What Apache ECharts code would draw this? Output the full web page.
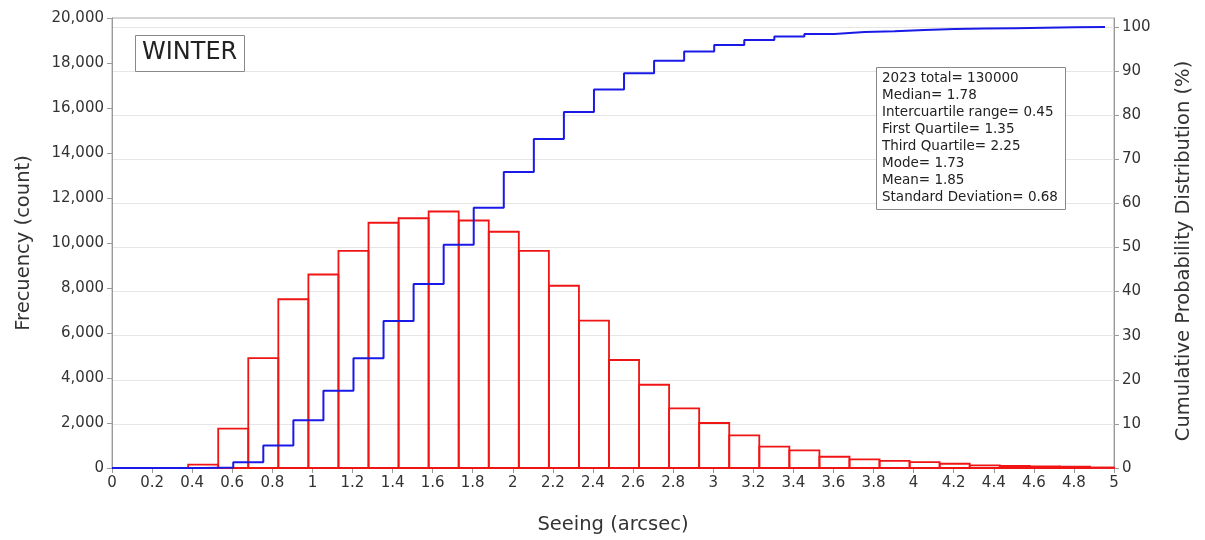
<!DOCTYPE html>
<html>
<head>
<meta charset="utf-8">
<script src="https://cdn.jsdelivr.net/npm/echarts@6/dist/echarts.min.js"></script>
<style>html,body{margin:0;padding:0;background:#fff}#chart{width:1205px;height:540px}</style>
</head>
<body>
<div id="chart"></div>
<script>
// Histogram bins (arcsec)
const binStarts = [0.38,0.53,0.68,0.83,0.98,1.13,1.28,1.43,1.58,1.73,1.88,2.03,2.18,2.33,2.48,2.63,2.78,2.93,3.08,3.23,3.38,3.53,3.68,3.83,3.98,4.13,4.28,4.43,4.58,4.73,4.88];
const binEnds   = [0.53,0.68,0.83,0.98,1.13,1.28,1.43,1.58,1.73,1.88,2.03,2.18,2.33,2.48,2.63,2.78,2.93,3.08,3.23,3.38,3.53,3.68,3.83,3.98,4.13,4.28,4.43,4.58,4.73,4.88,5.03];
const counts    = [150,1750,4880,7500,8600,9650,10900,11100,11400,11000,10500,9650,8100,6550,4800,3700,2650,2000,1450,950,780,500,380,320,260,190,120,90,70,55,25];
// Cumulative distribution (%)
const cdfX   = [0,0.455,0.605,0.755,0.905,1.055,1.205,1.355,1.505,1.655,1.805,1.955,2.105,2.255,2.405,2.555,2.705,2.855,3.005,3.155,3.305,3.455,3.605,3.755,3.905,4.055,4.205,4.355,4.505,4.655,4.805,4.955];
const cdfPct = [0,0.1,1.3,5.1,10.8,17.5,24.9,33.3,41.7,50.6,59.0,67.1,74.6,80.7,85.8,89.5,92.3,94.4,95.9,97.0,97.8,98.4,98.8,99.0,99.3,99.5,99.6,99.7,99.8,99.9,99.95,100];
// Tick labels
const rightTicks = [0,10,20,30,40,50,60,70,80,90,100];
const seasonLabel = 'WINTER';
const statsLines = [
  '2023 total= 130000',
  'Median= 1.78',
  'Intercuartile range= 0.45',
  'First Quartile= 1.35',
  'Third Quartile= 2.25',
  'Mode= 1.73',
  'Mean= 1.85',
  'Standard Deviation= 0.68'
];

const FONT = 'DejaVu Sans';
const histData = binStarts.map((s, i) => [s, binEnds[i], counts[i]]);
const cdfData = cdfX.map((x, i) => [x, cdfPct[i]]);

const chart = echarts.init(document.getElementById('chart'), null, {renderer: 'canvas'});
chart.setOption({
  animation: false,
  backgroundColor: '#fff',
  textStyle: {fontFamily: FONT},
  grid: {left: 112, right: 91, top: 18, bottom: 71, show: true, borderColor: '#aaa', borderWidth: 1, backgroundColor: 'transparent'},
  title: [
    {text: seasonLabel, left: 135, top: 35, padding: [6, 7, 7, 7], borderColor: '#888', borderWidth: 1,
     textStyle: {fontFamily: FONT, fontSize: 24, fontWeight: 'normal', color: '#222'}},
    {text: statsLines.join('\n'), left: 876, top: 67, padding: [3, 8, 4, 6], borderColor: '#888', borderWidth: 1, backgroundColor: '#fff',
     textStyle: {fontFamily: FONT, fontSize: 13.5, fontWeight: 'normal', color: '#222', lineHeight: 17}}
  ],
  xAxis: {
    type: 'value', min: 0, max: 5, interval: 0.2,
    name: 'Seeing (arcsec)', nameLocation: 'middle', nameGap: 47,
    nameTextStyle: {fontFamily: FONT, fontSize: 19.5, color: '#333'},
    axisLine: {lineStyle: {color: '#999'}},
    axisTick: {show: true, length: 5, lineStyle: {color: '#999'}},
    axisLabel: {fontFamily: FONT, fontSize: 15, color: '#333', margin: 8,
      formatter: v => String(+v.toFixed(1))},
    splitLine: {show: false}
  },
  yAxis: [
    {
      type: 'value', min: 0, max: 20000, interval: 2000,
      name: 'Frecuency (count)', nameLocation: 'middle', nameGap: 78,
      nameTextStyle: {fontFamily: FONT, fontSize: 19.5, color: '#333'},
      axisLine: {show: true, lineStyle: {color: '#999'}},
      axisTick: {show: true, length: 5, lineStyle: {color: '#999'}},
      axisLabel: {fontFamily: FONT, fontSize: 15, color: '#333', margin: 8,
        formatter: v => v.toLocaleString('en-US')},
      splitLine: {show: false}
    },
    {
      type: 'value', min: 0, max: 102, interval: 10, position: 'right',
      name: 'Cumulative Probability Distribution (%)', nameLocation: 'middle', nameGap: 60,
      nameTextStyle: {fontFamily: FONT, fontSize: 19.5, color: '#333', padding: [0, 16, 0, 0]},
      axisLine: {show: true, lineStyle: {color: '#999'}},
      axisTick: {show: true, length: 5, lineStyle: {color: '#999'}, customValues: rightTicks},
      axisLabel: {fontFamily: FONT, fontSize: 15, color: '#333', margin: 8, customValues: rightTicks},
      splitLine: {show: true, lineStyle: {color: '#e6e6e6', width: 1}}
    }
  ],
  series: [
    {
      type: 'custom', yAxisIndex: 0, data: histData, z: 2,
      renderItem: function (params, api) {
        const p0 = api.coord([api.value(0), 0]);
        const p1 = api.coord([api.value(1), api.value(2)]);
        const cs = params.coordSys;
        const xr = Math.min(p1[0], cs.x + cs.width);
        return {
          type: 'rect',
          shape: {x: p0[0], y: p1[1], width: xr - p0[0], height: p0[1] - p1[1]},
          style: {fill: 'none', stroke: '#f01414', lineWidth: 1.8}
        };
      }
    },
    {
      type: 'line', yAxisIndex: 1, data: cdfData, step: 'end', showSymbol: false, z: 3,
      lineStyle: {color: '#1a1ae6', width: 2}
    }
  ]
});
</script>
</body>
</html>
